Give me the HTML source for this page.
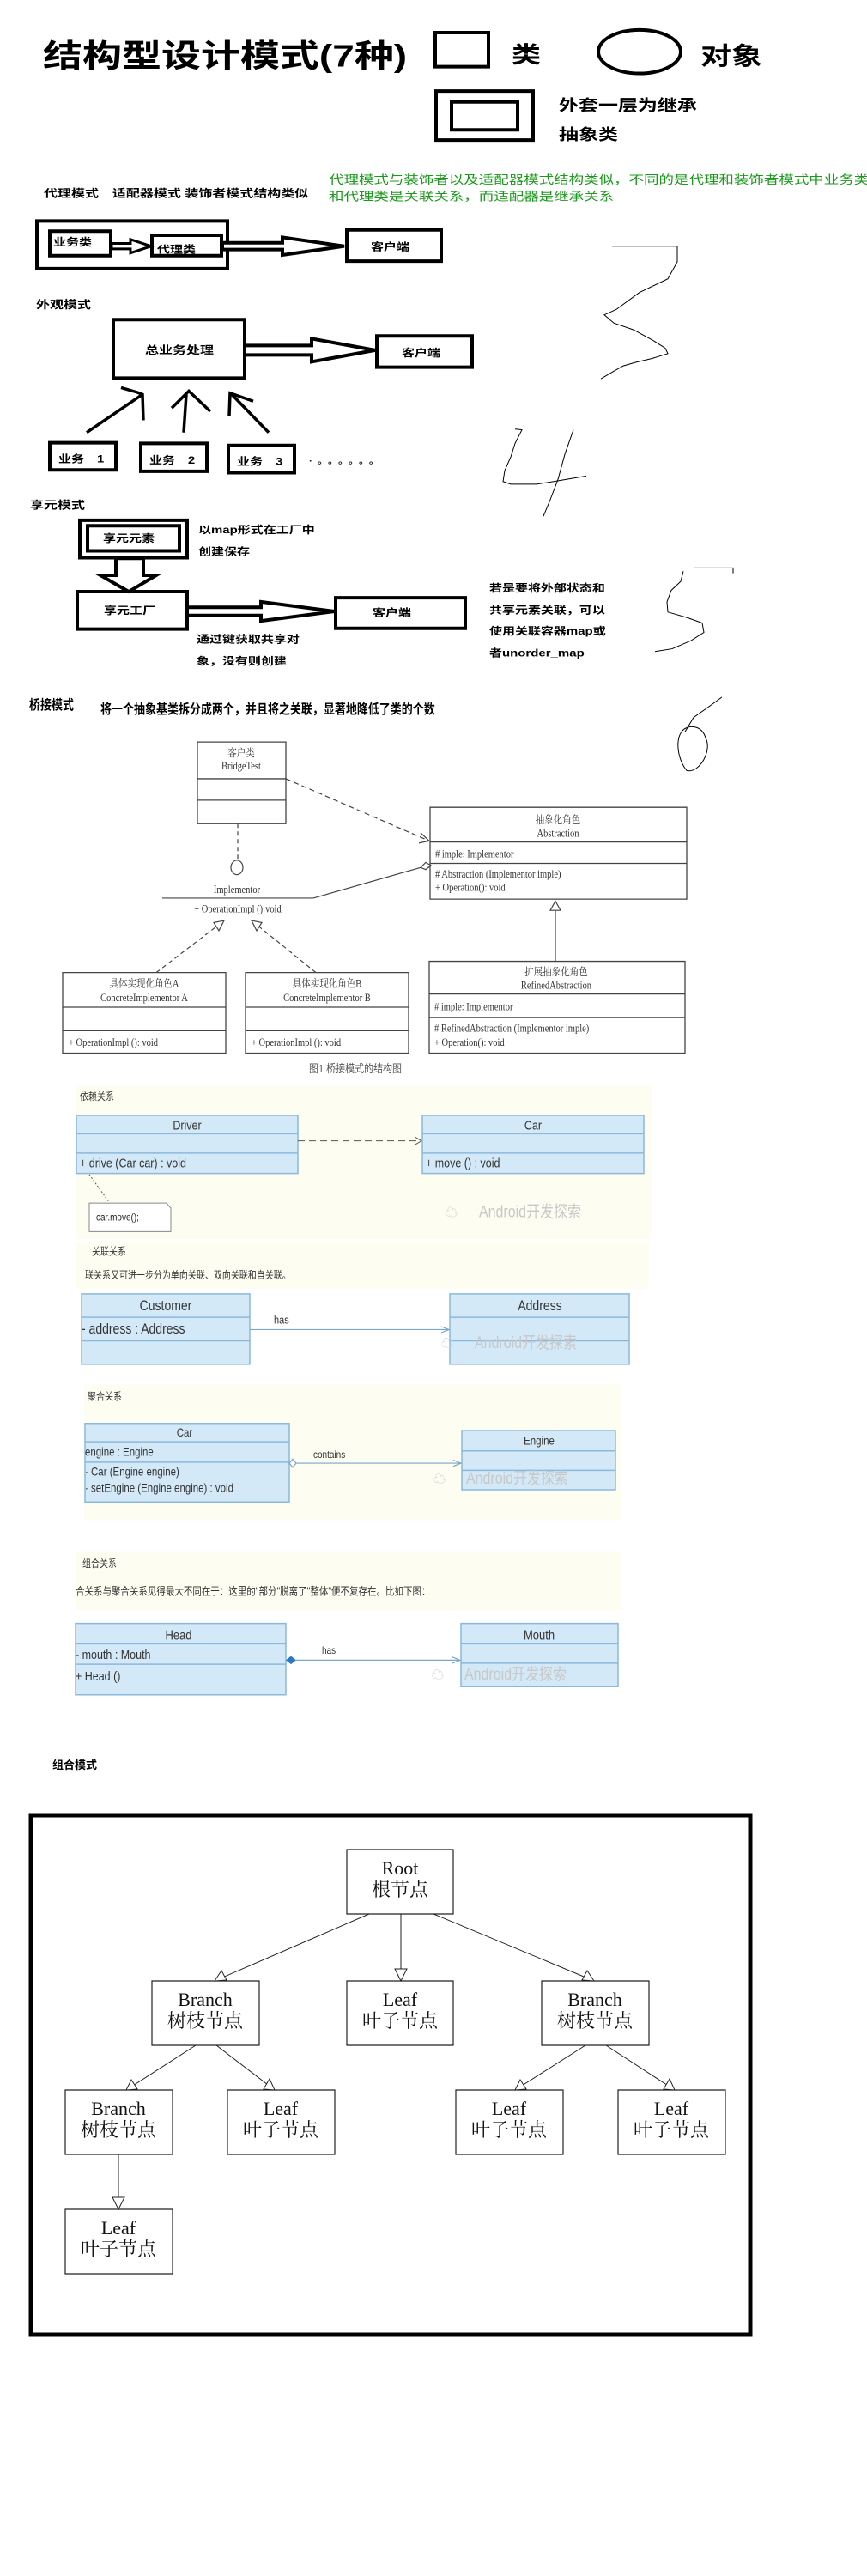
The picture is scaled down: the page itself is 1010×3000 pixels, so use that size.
<!DOCTYPE html>
<html><head><meta charset="utf-8"><style>
html,body{margin:0;padding:0;background:#fff;}
svg{display:block;}
rect,line,polyline,polygon,path,circle,ellipse{vector-effect:non-scaling-stroke;}
.b{font-family:"Liberation Sans","Noto Sans CJK SC",sans-serif;font-weight:bold;fill:#000;}
.n{font-family:"Liberation Sans","Noto Sans CJK SC",sans-serif;fill:#222;}
.s{font-family:"Liberation Serif","Noto Serif CJK SC",serif;fill:#333;}
.r{font-family:"Liberation Serif","Noto Serif CJK SC",serif;fill:#111;}
</style></head><body>
<svg width="1010" height="3000" viewBox="0 0 1010 3000" xmlns="http://www.w3.org/2000/svg">
<g transform="scale(1,0.792)">
<!-- header -->
<text class="b" x="50" y="98" font-size="46">结构型设计模式(7种)</text>
<rect x="507" y="48" width="62" height="50" fill="none" stroke="#000" stroke-width="4"/>
<text class="b" x="596" y="92" font-size="34">类</text>
<ellipse cx="745" cy="76" rx="48" ry="32" fill="none" stroke="#000" stroke-width="4"/>
<text class="b" x="816" y="95" font-size="36">对象</text>
<rect x="508" y="134" width="113" height="72" fill="none" stroke="#000" stroke-width="4"/>
<rect x="526" y="150" width="77" height="41" fill="none" stroke="#000" stroke-width="4"/>
<text class="b" x="651" y="163" font-size="23">外套一层为继承</text>
<text class="b" x="651" y="206" font-size="23">抽象类</text>

<!-- proxy -->
<text class="b" x="51" y="290" font-size="16">代理模式　适配器模式 装饰者模式结构类似</text>
<text class="n" x="383" y="270" font-size="17.5" style="fill:#1a9a1a">代理模式与装饰者以及适配器模式结构类似，不同的是代理和装饰者模式中业务类</text>
<text class="n" x="383" y="295" font-size="17.5" style="fill:#1a9a1a">和代理类是关联关系，而适配器是继承关系</text>
<rect x="43" y="325" width="222" height="70" fill="none" stroke="#000" stroke-width="4"/>
<rect x="58" y="340" width="71" height="36" fill="none" stroke="#000" stroke-width="4"/>
<text class="b" x="62" y="361" font-size="15">业务类</text>
<rect x="177" y="346" width="81" height="30" fill="none" stroke="#000" stroke-width="4"/>
<text class="b" x="183" y="372" font-size="15">代理类</text>
<polygon points="130,358 152,358 152,352 176,362 152,372 152,366 130,366" fill="#fff" stroke="#000" stroke-width="3"/>
<polygon points="259,357 329,357 329,349 401,362 329,375 329,367 259,367" fill="#fff" stroke="#000" stroke-width="4"/>
<rect x="404" y="338" width="110" height="46" fill="none" stroke="#000" stroke-width="4"/>
<text class="b" x="432" y="368" font-size="15">客户端</text>
<polyline points="713,362 789,362 789,385 778,410 745,430 718,455 704,463 715,475 738,485 760,500 775,512 778,520 760,527 740,533 726,538 712,548 700,557" fill="none" stroke="#000" stroke-width="1"/>

<!-- facade -->
<text class="b" x="42" y="453" font-size="16">外观模式</text>
<rect x="132" y="470" width="153" height="86" fill="none" stroke="#000" stroke-width="4"/>
<text class="b" x="169" y="520" font-size="16">总业务处理</text>
<polygon points="285,508 363,508 363,498 437,515 363,532 363,522 285,522" fill="#fff" stroke="#000" stroke-width="4"/>
<rect x="439" y="494" width="111" height="46" fill="none" stroke="#000" stroke-width="4"/>
<text class="b" x="468" y="524" font-size="15">客户端</text>
<g stroke="#000" stroke-width="3.5" fill="none">
<line x1="101" y1="636" x2="166" y2="580"/><polyline points="141,570 160,577 166,580 167,618"/>
<line x1="214" y1="636" x2="217" y2="580"/><polyline points="200,600 220,575 245,605"/>
<line x1="313" y1="636" x2="270" y2="580"/><polyline points="267,612 268,578 295,590"/>
</g>
<rect x="58" y="651" width="77" height="40" fill="none" stroke="#000" stroke-width="4"/>
<text class="b" x="68" y="680" font-size="15">业务　1</text>
<rect x="164" y="652" width="77" height="41" fill="none" stroke="#000" stroke-width="4"/>
<text class="b" x="174" y="682" font-size="15">业务　2</text>
<rect x="266" y="655" width="77" height="40" fill="none" stroke="#000" stroke-width="4"/>
<text class="b" x="276" y="684" font-size="15">业务　3</text>
<text class="b" x="360" y="682" font-size="12" letter-spacing="6">·。。。。。。</text>
<polyline points="600,631 608,632 600,652 595,672 588,692 586,708 595,712 625,712 645,708 683,700" fill="none" stroke="#000" stroke-width="1"/>
<polyline points="668,632 658,668 650,705 640,738 633,759" fill="none" stroke="#000" stroke-width="1"/>

<!-- flyweight -->
<text class="b" x="35" y="748" font-size="16">享元模式</text>
<rect x="93" y="765" width="125" height="55" fill="none" stroke="#000" stroke-width="4"/>
<rect x="102" y="773" width="107" height="37" fill="none" stroke="#000" stroke-width="4"/>
<text class="b" x="120" y="797" font-size="15">享元元素</text>
<text class="b" x="231" y="784" font-size="15">以map形式在工厂中</text>
<text class="b" x="231" y="816" font-size="15">创建保存</text>
<polygon points="135,821 167,821 167,846 182,846 150,870 117,846 135,846" fill="#fff" stroke="#000" stroke-width="4"/>
<rect x="90" y="870" width="128" height="55" fill="none" stroke="#000" stroke-width="4"/>
<text class="b" x="121" y="903" font-size="15">享元工厂</text>
<polygon points="218,893 304,893 304,885 390,899 304,913 304,905 218,905" fill="#fff" stroke="#000" stroke-width="4"/>
<rect x="391" y="879" width="151" height="45" fill="none" stroke="#000" stroke-width="4"/>
<text class="b" x="434" y="906" font-size="15">客户端</text>
<text class="b" x="229" y="945" font-size="15">通过键获取共享对</text>
<text class="b" x="229" y="977" font-size="15">象，没有则创建</text>
<text class="b" x="570" y="870" font-size="15">若是要将外部状态和</text>
<text class="b" x="570" y="902" font-size="15">共享元素关联，可以</text>
<text class="b" x="570" y="933" font-size="15">使用关联容器map或</text>
<text class="b" x="570" y="965" font-size="15">者unorder_map</text>
<polyline points="809,835 854,835 854,843" fill="none" stroke="#000" stroke-width="1"/>
<polyline points="796,840 793,855 782,868 777,885 778,900 800,908 818,916 820,930 805,942 783,954 763,958" fill="none" stroke="#000" stroke-width="1"/>
</g>

<g transform="translate(0,800) scale(1,1.188) translate(0,-800)">
<!-- bridge -->
<text class="b" x="34" y="822" font-size="13">桥接模式</text>
<text class="b" x="117" y="826" font-size="13">将一个抽象基类拆分成两个，并且将之关联，显著地降低了类的个数</text>
<polyline points="841,810 828,818 808,830 798,844" fill="none" stroke="#000" stroke-width="1"/>
<path d="M800,840 C785,845 788,870 800,882 C815,885 830,862 822,850 C818,838 805,838 800,840" fill="none" stroke="#000" stroke-width="1"/>
<g stroke="#444" stroke-width="1.3" fill="#fff">
<rect x="230" y="854" width="103" height="80"/><line x1="230" y1="890" x2="333" y2="890"/><line x1="230" y1="911" x2="333" y2="911"/>
<rect x="501" y="918" width="299" height="90"/><line x1="501" y1="952" x2="800" y2="952"/><line x1="501" y1="973" x2="800" y2="973"/>
<rect x="73" y="1080" width="190" height="79"/><line x1="73" y1="1114" x2="263" y2="1114"/><line x1="73" y1="1137" x2="263" y2="1137"/>
<rect x="286" y="1080" width="190" height="79"/><line x1="286" y1="1114" x2="476" y2="1114"/><line x1="286" y1="1137" x2="476" y2="1137"/>
<rect x="500" y="1069" width="298" height="90"/><line x1="500" y1="1101" x2="798" y2="1101"/><line x1="500" y1="1124" x2="798" y2="1124"/>
</g>
<g stroke="#444" stroke-width="1.2" fill="none">
<line x1="333" y1="890" x2="500" y2="951" stroke-dasharray="6,4"/><polyline points="490,943 500,951 488,953"/>
<line x1="277" y1="934" x2="277" y2="969" stroke-dasharray="5,4"/><circle cx="276" cy="977" r="7"/>
<line x1="189" y1="1007" x2="365" y2="1007"/>
<line x1="365" y1="1007" x2="490" y2="977"/><polygon points="490,977 496,972 502,975 496,979" fill="#fff"/>
<line x1="182" y1="1080" x2="255" y2="1033" stroke-dasharray="5,4"/><polygon points="261,1029 249,1031 255,1039" fill="#fff"/>
<line x1="368" y1="1080" x2="299" y2="1033" stroke-dasharray="5,4"/><polygon points="293,1029 299,1039 305,1031" fill="#fff"/>
<line x1="647" y1="1069" x2="647" y2="1018"/><polygon points="647,1010 641,1019 653,1019" fill="#fff"/>
</g>
<g class="s" font-size="10.5" text-anchor="middle">
<text x="281" y="868">客户类</text><text x="281" y="881">BridgeTest</text>
<text x="650" y="934">抽象化角色</text><text x="650" y="947">Abstraction</text>
<text x="276" y="1002">Implementor</text><text x="277" y="1021">+ OperationImpl ():void</text>
<text x="168" y="1094">具体实现化角色A</text><text x="168" y="1108">ConcreteImplementor A</text>
<text x="381" y="1094">具体实现化角色B</text><text x="381" y="1108">ConcreteImplementor B</text>
<text x="648" y="1083">扩展抽象化角色</text><text x="648" y="1096">RefinedAbstraction</text>
</g>
<g class="s" font-size="10.5">
<text x="507" y="967"># imple: Implementor</text>
<text x="507" y="987"># Abstraction (Implementor imple)</text>
<text x="507" y="1000">+ Operation(): void</text>
<text x="80" y="1152">+ OperationImpl (): void</text>
<text x="293" y="1152">+ OperationImpl (): void</text>
<text x="506" y="1117"># imple: Implementor</text>
<text x="506" y="1138"># RefinedAbstraction (Implementor imple)</text>
<text x="506" y="1152">+ Operation(): void</text>
</g>
<text class="n" x="360" y="1178" font-size="11" style="fill:#555">图1 桥接模式的结构图</text>

<!-- UML panels -->
<rect x="88" y="1191" width="671" height="150" fill="#fdfdf1"/>
<rect x="88" y="1344" width="668" height="46" fill="#fdfdf1"/>
<rect x="98" y="1484" width="625" height="133" fill="#fdfdf1"/>
<rect x="88" y="1647" width="637" height="58" fill="#fdfdf1"/>
<g stroke="#8bb9dc" stroke-width="1.5" fill="#d3e9f7">
<rect x="89" y="1220" width="258" height="57"/><line x1="89" y1="1238" x2="347" y2="1238"/><line x1="89" y1="1257" x2="347" y2="1257"/>
<rect x="492" y="1220" width="258" height="57"/><line x1="492" y1="1238" x2="750" y2="1238"/><line x1="492" y1="1257" x2="750" y2="1257"/>
<rect x="95" y="1395" width="196" height="69"/><line x1="95" y1="1418" x2="291" y2="1418"/><line x1="95" y1="1441" x2="291" y2="1441"/>
<rect x="524" y="1395" width="209" height="69"/><line x1="524" y1="1418" x2="733" y2="1418"/><line x1="524" y1="1441" x2="733" y2="1441"/>
<rect x="99" y="1522" width="238" height="77"/><line x1="99" y1="1540" x2="337" y2="1540"/><line x1="99" y1="1560" x2="337" y2="1560"/>
<rect x="538" y="1529" width="179" height="58"/><line x1="538" y1="1549" x2="717" y2="1549"/><line x1="538" y1="1568" x2="717" y2="1568"/>
<rect x="88" y="1718" width="245" height="70"/><line x1="88" y1="1738" x2="333" y2="1738"/><line x1="88" y1="1758" x2="333" y2="1758"/>
<rect x="537" y="1718" width="183" height="62"/><line x1="537" y1="1738" x2="720" y2="1738"/><line x1="537" y1="1757" x2="720" y2="1757"/>
</g>
<g stroke="#555" stroke-width="1" fill="none">
<line x1="347" y1="1245" x2="490" y2="1245" stroke-dasharray="8,5"/><polyline points="483,1241 491,1245 483,1249"/>
<line x1="104" y1="1278" x2="127" y2="1305" stroke-dasharray="2,2"/>
</g>
<path d="M104,1306 H194 L199,1311 V1334 H104 Z" fill="#fff" stroke="#888"/>
<text class="n" x="112" y="1323" font-size="10">car.move();</text>
<g stroke="#7aa6cc" stroke-width="1.2" fill="none">
<line x1="291" y1="1430" x2="522" y2="1430"/><polyline points="514,1427 523,1430 514,1433"/>
<line x1="345" y1="1561" x2="536" y2="1561"/><polyline points="528,1558 537,1561 528,1564"/>
<polygon points="337,1561 341,1557 345,1561 341,1565" fill="#fff"/>
<line x1="345" y1="1754" x2="535" y2="1754"/><polyline points="527,1751 536,1754 527,1757"/>
</g>
<polygon points="333,1754 339,1750 345,1754 339,1758" fill="#2a78c8"/>
<g class="n" font-size="12.5" style="fill:#333">
<text x="93" y="1205" font-size="10">依赖关系</text>
<text x="218" y="1234" text-anchor="middle">Driver</text>
<text x="621" y="1234" text-anchor="middle">Car</text>
<text x="93" y="1271">+  drive (Car car) : void</text>
<text x="496" y="1271">+  move ()  : void</text>
<text x="107" y="1357" font-size="10">关联关系</text>
<text x="99" y="1380" font-size="10">联关系又可进一步分为单向关联、双向关联和自关联。</text>
<text x="193" y="1411" text-anchor="middle" font-size="14">Customer</text>
<text x="629" y="1411" text-anchor="middle" font-size="14">Address</text>
<text x="95" y="1434" font-size="14">- address  : Address</text>
<text x="319" y="1424" font-size="11">has</text>
<text x="102" y="1499" font-size="10">聚合关系</text>
<text x="215" y="1535" text-anchor="middle" font-size="11.5">Car</text>
<text x="99" y="1554" font-size="11.5"> engine  : Engine</text>
<text x="99" y="1573" font-size="11.5">· Car (Engine engine)</text>
<text x="99" y="1589" font-size="11.5">· setEngine (Engine engine)  : void</text>
<text x="628" y="1543" text-anchor="middle" font-size="11.5">Engine</text>
<text x="365" y="1556" font-size="10">contains</text>
<text x="96" y="1663" font-size="10">组合关系</text>
<text x="88" y="1690" font-size="10.5">合关系与聚合关系见得最大不同在于：这里的"部分"脱离了"整体"便不复存在。比如下图：</text>
<text x="208" y="1734" text-anchor="middle" font-size="13">Head</text>
<text x="88" y="1753" font-size="12.5">- mouth  : Mouth</text>
<text x="88" y="1774" font-size="12.5">+ Head ()</text>
<text x="628" y="1734" text-anchor="middle" font-size="13">Mouth</text>
<text x="375" y="1748" font-size="10">has</text>
</g>
<g class="n" font-size="16" style="fill:#c8c8c8">
<text x="558" y="1320">Android开发探索</text>
<text x="553" y="1448">Android开发探索</text>
<text x="543" y="1581">Android开发探索</text>
<text x="541" y="1773">Android开发探索</text>
</g>
<g font-size="14" class="n" style="fill:#ccc">
<text x="519" y="1320">☁</text><text x="514" y="1448">☁</text><text x="505" y="1581">☁</text><text x="503" y="1773">☁</text>
</g>
</g>

<!-- composite -->
<text class="b" x="61" y="2060" font-size="13">组合模式</text>
<rect x="36" y="2114" width="838" height="605" fill="none" stroke="#000" stroke-width="5"/>
<g stroke="#222" stroke-width="1.2" fill="#fff">
<rect x="404" y="2154" width="124" height="75"/>
<rect x="177" y="2307" width="125" height="75"/>
<rect x="404" y="2307" width="124" height="75"/>
<rect x="631" y="2307" width="125" height="75"/>
<rect x="76" y="2434" width="125" height="75"/>
<rect x="265" y="2434" width="125" height="75"/>
<rect x="531" y="2434" width="125" height="75"/>
<rect x="720" y="2434" width="125" height="75"/>
<rect x="76" y="2573" width="125" height="75"/>
</g>
<g stroke="#222" stroke-width="1" fill="#fff">
<line x1="430" y1="2229" x2="250" y2="2307"/><polygon points="250,2307 258,2295 264,2306"/>
<line x1="467" y1="2229" x2="467" y2="2307"/><polygon points="467,2307 460,2293 474,2293"/>
<line x1="505" y1="2229" x2="692" y2="2307"/><polygon points="692,2307 678,2306 684,2295"/>
<line x1="228" y1="2382" x2="147" y2="2434"/><polygon points="147,2434 153,2422 160,2433"/>
<line x1="252" y1="2382" x2="320" y2="2434"/><polygon points="320,2434 307,2433 314,2421"/>
<line x1="682" y1="2382" x2="600" y2="2434"/><polygon points="600,2434 606,2422 613,2433"/>
<line x1="706" y1="2382" x2="786" y2="2434"/><polygon points="786,2434 773,2433 780,2421"/>
<line x1="138" y1="2509" x2="138" y2="2573"/><polygon points="138,2573 131,2559 145,2559"/>
</g>
<g class="r" font-size="22" text-anchor="middle">
<text x="466" y="2183">Root</text><text x="466" y="2208">根节点</text>
<text x="239" y="2336">Branch</text><text x="239" y="2361">树枝节点</text>
<text x="466" y="2336">Leaf</text><text x="466" y="2361">叶子节点</text>
<text x="693" y="2336">Branch</text><text x="693" y="2361">树枝节点</text>
<text x="138" y="2463">Branch</text><text x="138" y="2488">树枝节点</text>
<text x="327" y="2463">Leaf</text><text x="327" y="2488">叶子节点</text>
<text x="593" y="2463">Leaf</text><text x="593" y="2488">叶子节点</text>
<text x="782" y="2463">Leaf</text><text x="782" y="2488">叶子节点</text>
<text x="138" y="2602">Leaf</text><text x="138" y="2627">叶子节点</text>
</g>
</svg>
</body></html>
